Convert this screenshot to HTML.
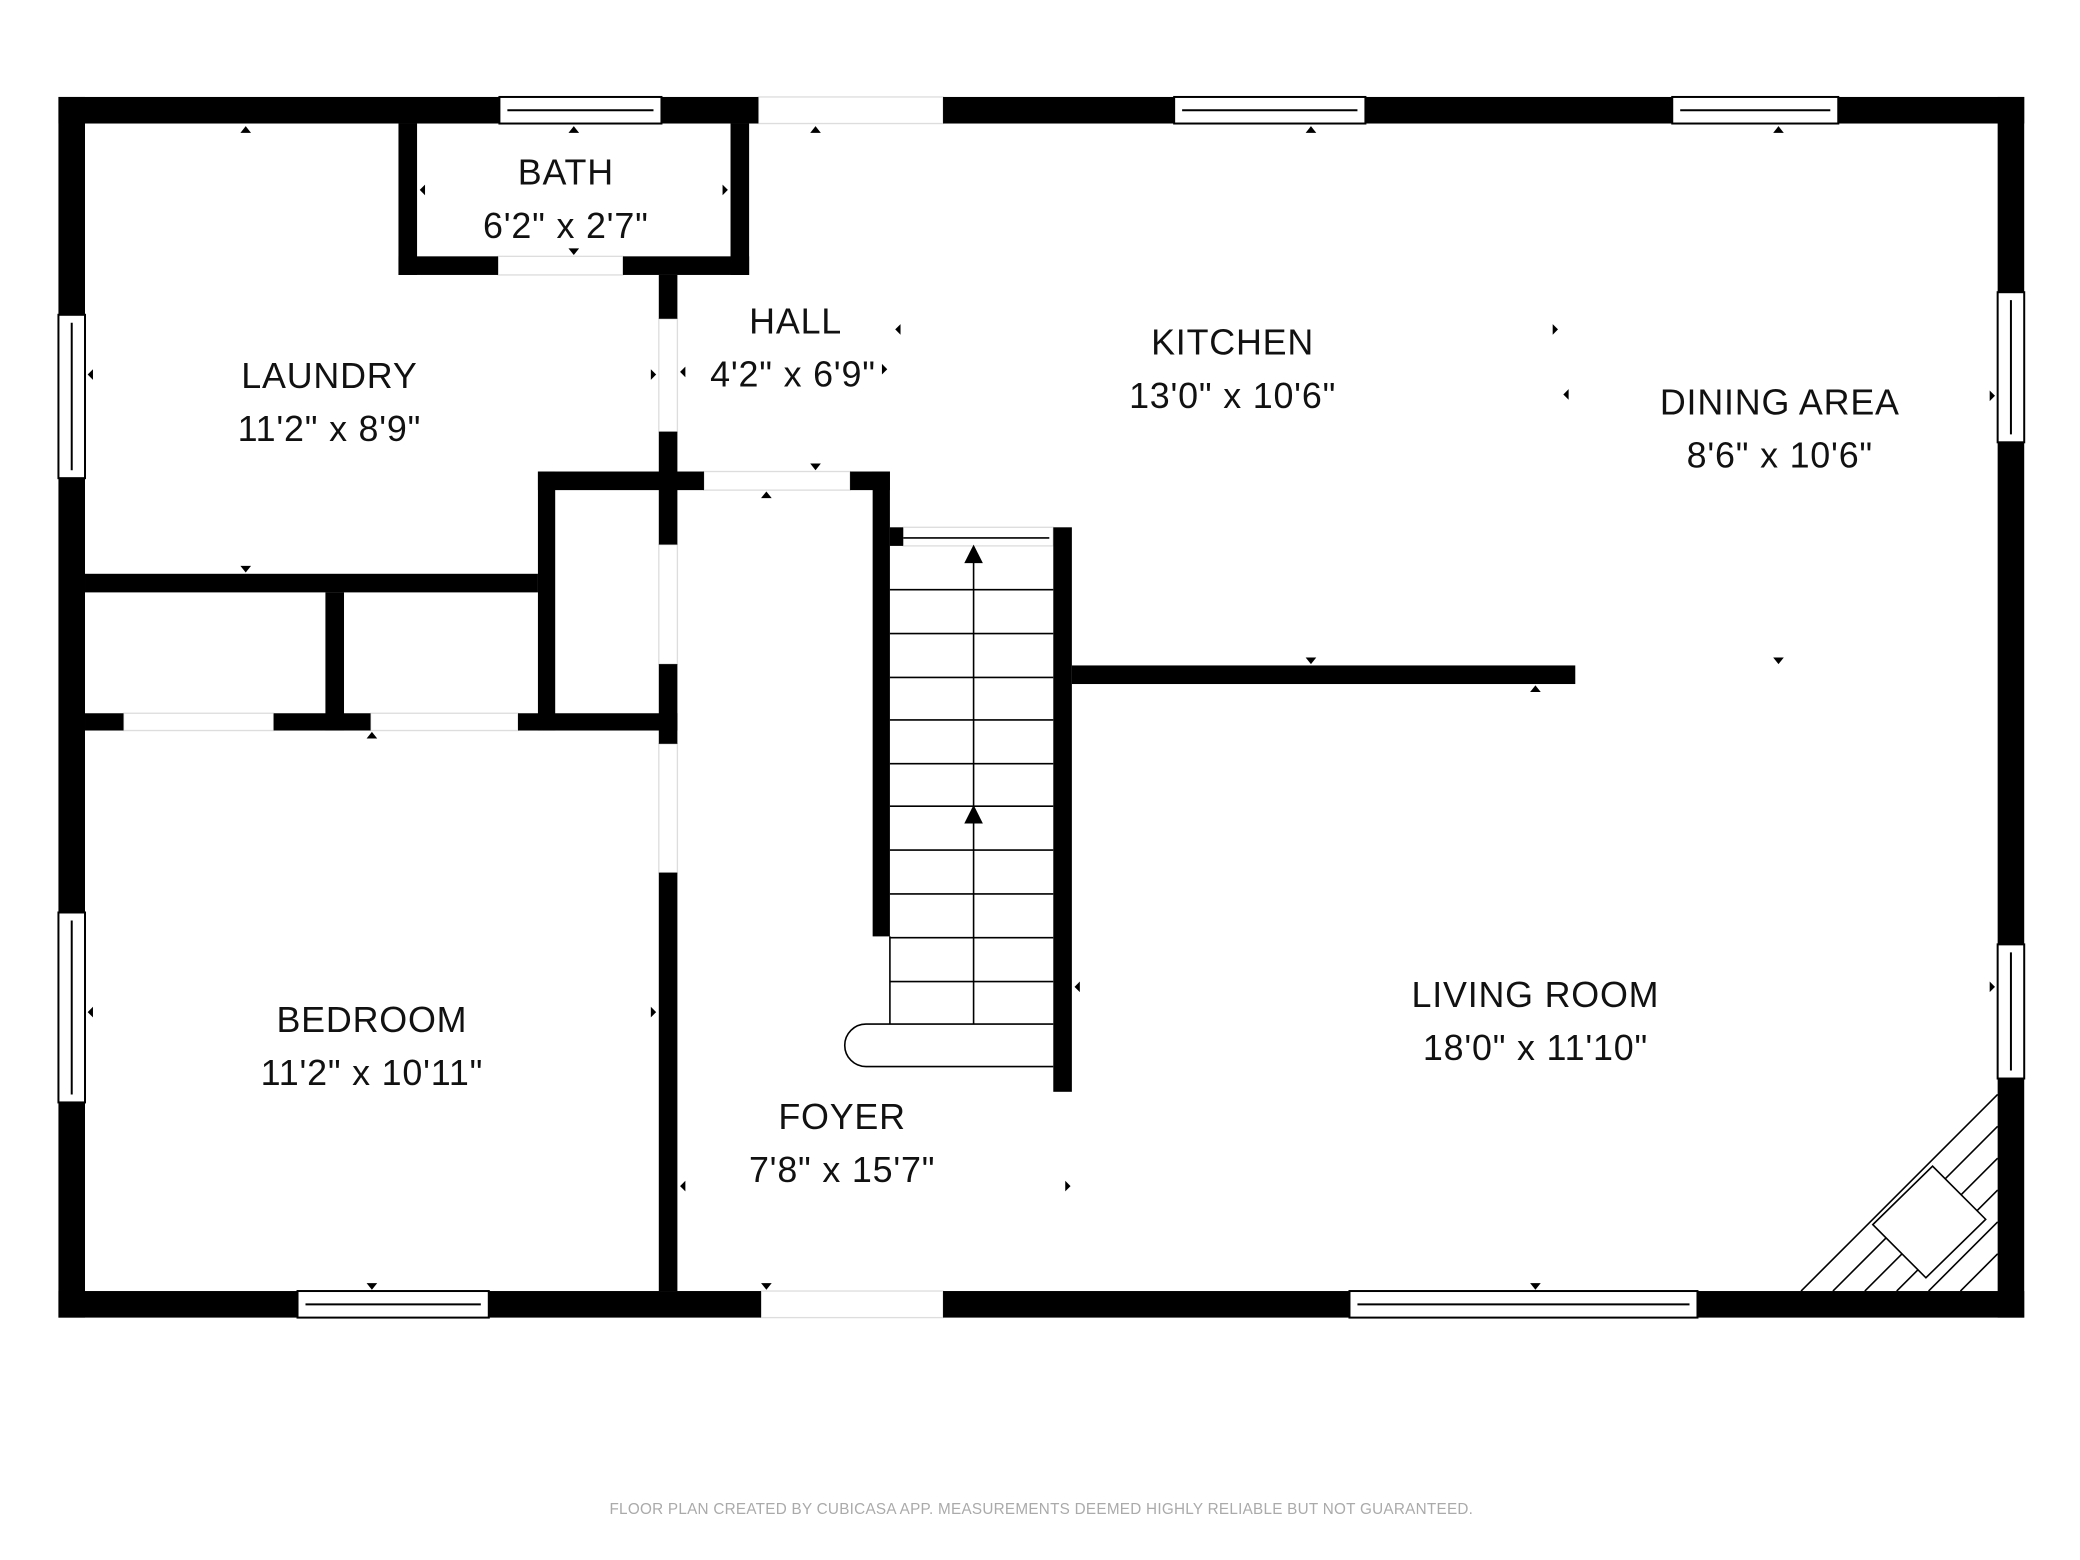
<!DOCTYPE html>
<html><head><meta charset="utf-8"><style>
html,body{margin:0;padding:0;background:#fff;}
svg{display:block;}
text{font-family:"Liberation Sans",sans-serif;fill:#111;text-anchor:middle;}
</style></head><body>
<svg width="2080" height="1560" viewBox="0 0 1566 1174.5" xmlns="http://www.w3.org/2000/svg">
<rect width="1566" height="1175" fill="#fff"/>
<g fill="none" stroke="#ddd" stroke-width="1">
<rect x="571" y="73" width="139" height="20"/>
<rect x="573" y="972" width="137" height="20"/>
<rect x="375" y="193" width="94" height="14"/>
<rect x="496" y="240" width="14" height="85"/>
<rect x="496" y="410" width="14" height="90"/>
<rect x="496" y="560" width="14" height="97"/>
<rect x="530" y="355" width="110" height="14"/>
<rect x="93" y="537" width="113" height="13"/>
<rect x="279" y="537" width="111" height="13"/>
<rect x="680" y="397" width="113" height="14"/>
</g>
<g fill="#000">
<rect x="44" y="73" width="527" height="20"/>
<rect x="710" y="73" width="814" height="20"/>
<rect x="44" y="73" width="20" height="919"/>
<rect x="1504" y="73" width="20" height="919"/>
<rect x="44" y="972" width="529" height="20"/>
<rect x="710" y="972" width="814" height="20"/>
<rect x="300" y="93" width="14" height="114"/>
<rect x="550" y="93" width="14" height="114"/>
<rect x="300" y="193" width="75" height="14"/>
<rect x="469" y="193" width="95" height="14"/>
<rect x="496" y="207" width="14" height="33"/>
<rect x="496" y="325" width="14" height="85"/>
<rect x="496" y="500" width="14" height="60"/>
<rect x="496" y="657" width="14" height="315"/>
<rect x="405" y="355" width="125" height="14"/>
<rect x="640" y="355" width="30" height="14"/>
<rect x="405" y="355" width="13" height="195"/>
<rect x="64" y="432" width="341" height="14"/>
<rect x="245" y="446" width="14" height="104"/>
<rect x="64" y="537" width="29" height="13"/>
<rect x="206" y="537" width="73" height="13"/>
<rect x="390" y="537" width="120" height="13"/>
<rect x="657" y="355" width="13" height="350"/>
<rect x="793" y="397" width="14" height="425"/>
<rect x="670" y="397" width="10" height="14"/>
<rect x="807" y="501" width="379" height="14"/>
</g>
<g fill="#fff" stroke="#000" stroke-width="1.5">
<rect x="376" y="73" width="122" height="20"/><line x1="382" y1="83" x2="492" y2="83"/>
<rect x="884" y="73" width="144" height="20"/><line x1="890" y1="83" x2="1022" y2="83"/>
<rect x="1259" y="73" width="125" height="20"/><line x1="1265" y1="83" x2="1378" y2="83"/>
<rect x="44" y="237" width="20" height="123"/><line x1="54" y1="243" x2="54" y2="354"/>
<rect x="44" y="687" width="20" height="143"/><line x1="54" y1="693" x2="54" y2="824"/>
<rect x="1504" y="220" width="20" height="113"/><line x1="1514" y1="226" x2="1514" y2="327"/>
<rect x="1504" y="711" width="20" height="101"/><line x1="1514" y1="717" x2="1514" y2="806"/>
<rect x="224" y="972" width="144" height="20"/><line x1="230" y1="982" x2="362" y2="982"/>
<rect x="1016" y="972" width="262" height="20"/><line x1="1022" y1="982" x2="1272" y2="982"/>
</g>
<g stroke="#000" stroke-width="1.2" fill="none">
<line x1="670" y1="444" x2="793" y2="444"/><line x1="670" y1="477" x2="793" y2="477"/>
<line x1="670" y1="510" x2="793" y2="510"/><line x1="670" y1="542" x2="793" y2="542"/>
<line x1="670" y1="575" x2="793" y2="575"/><line x1="670" y1="607" x2="793" y2="607"/>
<line x1="670" y1="640" x2="793" y2="640"/><line x1="670" y1="673" x2="793" y2="673"/>
<line x1="670" y1="706" x2="793" y2="706"/><line x1="670" y1="739" x2="793" y2="739"/>
<line x1="670" y1="705" x2="670" y2="771"/>
<line x1="733" y1="420" x2="733" y2="771"/>
<path d="M793 771 H652 A16 16 0 0 0 652 803 H793"/>
<line x1="680" y1="405" x2="790" y2="405"/>
</g>
<polygon points="733,410 726,424 740,424" fill="#000"/>
<polygon points="733,606 726,620 740,620" fill="#000"/>
<g stroke="#000" stroke-width="1.2" fill="none">
<line x1="1356" y1="972" x2="1504" y2="824"/>
<line x1="1380" y1="972" x2="1504" y2="848"/>
<line x1="1404" y1="972" x2="1504" y2="872"/>
<line x1="1428" y1="972" x2="1504" y2="896"/>
<line x1="1452" y1="972" x2="1504" y2="920"/>
<line x1="1476" y1="972" x2="1504" y2="944"/>
<polygon points="1410,922 1455,878 1495,918 1450,962" fill="#fff"/>
</g>
<g fill="#000">
<polygon points="185,95 181,100 189,100"/><polygon points="432,95 428,100 436,100"/>
<polygon points="614,95 610,100 618,100"/><polygon points="987,95 983,100 991,100"/>
<polygon points="1339,95 1335,100 1343,100"/>
<polygon points="432,192 428,187 436,187"/><polygon points="185,431 181,426 189,426"/>
<polygon points="614,354 610,349 618,349"/><polygon points="577,370 573,375 581,375"/>
<polygon points="280,551 276,556 284,556"/><polygon points="987,500 983,495 991,495"/>
<polygon points="1156,516 1152,521 1160,521"/><polygon points="1339,500 1335,495 1343,495"/>
<polygon points="577,971 573,966 581,966"/><polygon points="280,971 276,966 284,966"/>
<polygon points="1156,971 1152,966 1160,966"/>
<polygon points="66,282 70,278 70,286"/><polygon points="66,762 70,758 70,766"/>
<polygon points="1502,298 1498,294 1498,302"/><polygon points="1502,743 1498,739 1498,747"/>
<polygon points="316,143 320,139 320,147"/><polygon points="548,143 544,139 544,147"/>
<polygon points="494,282 490,278 490,286"/><polygon points="512,280 516,276 516,284"/>
<polygon points="494,762 490,758 490,766"/><polygon points="512,893 516,889 516,897"/>
<polygon points="806,893 802,889 802,897"/><polygon points="809,743 813,739 813,747"/>
<polygon points="674,248 678,244 678,252"/><polygon points="668,278 664,274 664,282"/>
<polygon points="1173,248 1169,244 1169,252"/><polygon points="1177,297 1181,293 1181,301"/>
</g>
<g font-size="27" letter-spacing="0.6">
<text x="426" y="139">BATH</text><text x="426" y="179">6'2" x 2'7"</text>
<text x="599" y="251">HALL</text><text x="597" y="291">4'2" x 6'9"</text>
<text x="248" y="292">LAUNDRY</text><text x="248" y="332">11'2" x 8'9"</text>
<text x="928" y="267">KITCHEN</text><text x="928" y="307">13'0" x 10'6"</text>
<text x="1340" y="312">DINING AREA</text><text x="1340" y="352">8'6" x 10'6"</text>
<text x="280" y="777">BEDROOM</text><text x="280" y="817">11'2" x 10'11"</text>
<text x="1156" y="758">LIVING ROOM</text><text x="1156" y="798">18'0" x 11'10"</text>
<text x="634" y="850">FOYER</text><text x="634" y="890">7'8" x 15'7"</text>
</g>
<text x="784" y="1140" font-size="11.5" letter-spacing="0.2" style="fill:#aaa">FLOOR PLAN CREATED BY CUBICASA APP. MEASUREMENTS DEEMED HIGHLY RELIABLE BUT NOT GUARANTEED.</text>
</svg>
</body></html>
